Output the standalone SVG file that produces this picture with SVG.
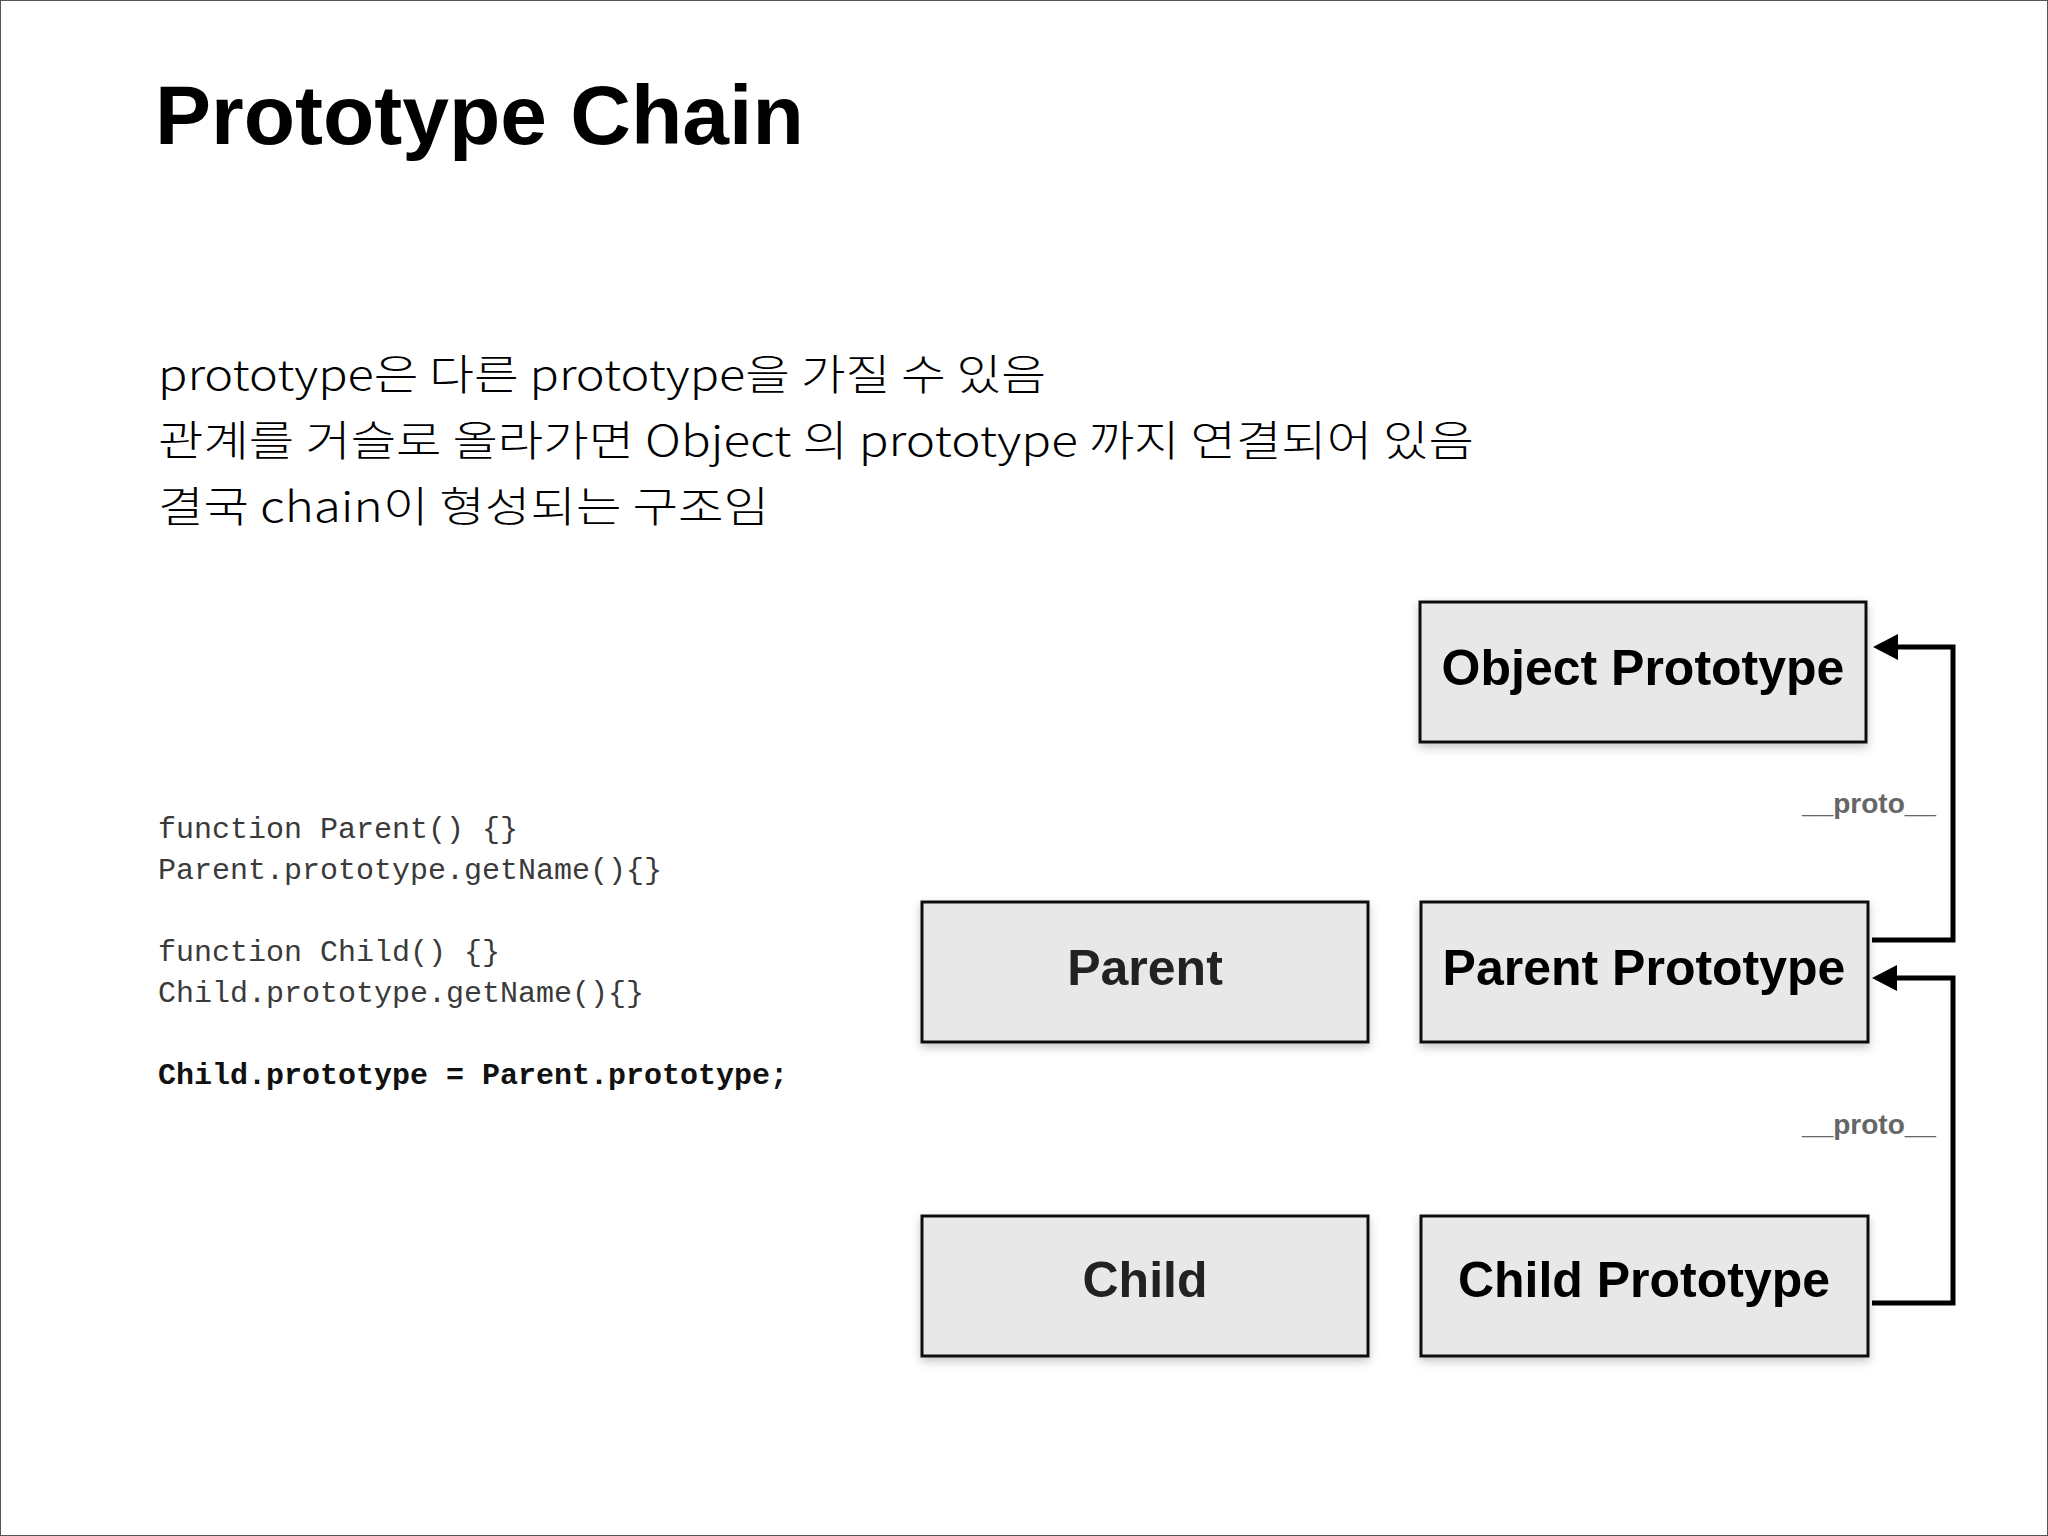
<svg xmlns="http://www.w3.org/2000/svg" width="2048" height="1536" viewBox="0 0 2048 1536">
  <style>
    .title { font-family: "Liberation Sans", Arial, sans-serif; font-weight: bold; font-size: 84px; fill: #000; }
    .desc { font-family: "Noto Sans CJK KR", "Liberation Sans", sans-serif; font-weight: 300; font-size: 42px; fill: #000; }
    .code { font-family: "Liberation Mono", "Courier New", monospace; font-size: 30px; fill: #3a3a3a; white-space: pre; }
    .code-b { font-family: "Liberation Mono", "Courier New", monospace; font-size: 30px; font-weight: bold; fill: #111; white-space: pre; }
    .box { fill: #e8e8e8; stroke: #111; stroke-width: 3; filter: url(#shadow); }
    .label { font-family: "Liberation Sans", Arial, sans-serif; font-weight: bold; font-size: 50px; text-anchor: middle; fill: #000; }
    .label-dim { fill: #222; }
    .conn { fill: none; stroke: #000; stroke-width: 5; stroke-linejoin: miter; marker-end: url(#arrow); }
    .proto { font-family: "Liberation Sans", Arial, sans-serif; font-weight: bold; font-size: 28px; text-anchor: middle; fill: #666; }
  </style>
  <defs>
    <filter id="shadow" x="-10%" y="-20%" width="120%" height="150%">
      <feDropShadow dx="0" dy="4" stdDeviation="5" flood-color="#000" flood-opacity="0.22"/>
    </filter>
    <marker id="arrow" markerUnits="userSpaceOnUse" markerWidth="26" markerHeight="26" viewBox="0 0 26 26" refX="0" refY="13" orient="auto">
      <path d="M0,0 L25,13 L0,26 Z" fill="#000"/>
    </marker>
  </defs>

  <rect x="0" y="0" width="2048" height="1536" fill="#fff"/>
  <rect x="0.5" y="0.5" width="2047" height="1535" fill="none" stroke="#555" stroke-width="1"/>

  <text class="title" x="155" y="144">Prototype Chain</text>

  <g id="description">
    <text class="desc" x="158" y="390" textLength="888" lengthAdjust="spacingAndGlyphs">prototype은 다른 prototype을 가질 수 있음</text>
    <text class="desc" x="158" y="456" textLength="1316" lengthAdjust="spacingAndGlyphs">관계를 거슬로 올라가면 Object 의 prototype 까지 연결되어 있음</text>
    <text class="desc" x="158" y="522" textLength="611" lengthAdjust="spacingAndGlyphs">결국 chain이 형성되는 구조임</text>
  </g>

  <g id="code">
    <text class="code" x="158" y="838">function Parent() {}</text>
    <text class="code" x="158" y="879">Parent.prototype.getName(){}</text>
    <text class="code" x="158" y="961">function Child() {}</text>
    <text class="code" x="158" y="1002">Child.prototype.getName(){}</text>
    <text class="code-b" x="158" y="1084">Child.prototype = Parent.prototype;</text>
  </g>

  <g id="connectors">
    <polyline id="edge-parentproto-objectproto" class="conn" points="1872,940 1953,940 1953,647 1898,647"/>
    <polyline id="edge-childproto-parentproto" class="conn" points="1872,1303 1953,1303 1953,978 1897,978"/>
    <text class="proto" x="1869" y="813">__proto__</text>
    <text class="proto" x="1869" y="1134">__proto__</text>
  </g>

  <g id="node-object-prototype">
    <rect class="box" x="1420" y="602" width="446" height="140"/>
    <text class="label" x="1643" y="685">Object Prototype</text>
  </g>
  <g id="node-parent">
    <rect class="box" x="922" y="902" width="446" height="140"/>
    <text class="label label-dim" x="1145" y="985">Parent</text>
  </g>
  <g id="node-parent-prototype">
    <rect class="box" x="1421" y="902" width="447" height="140"/>
    <text class="label" x="1644" y="985">Parent Prototype</text>
  </g>
  <g id="node-child">
    <rect class="box" x="922" y="1216" width="446" height="140"/>
    <text class="label label-dim" x="1145" y="1297">Child</text>
  </g>
  <g id="node-child-prototype">
    <rect class="box" x="1421" y="1216" width="447" height="140"/>
    <text class="label" x="1644" y="1297">Child Prototype</text>
  </g>
</svg>
